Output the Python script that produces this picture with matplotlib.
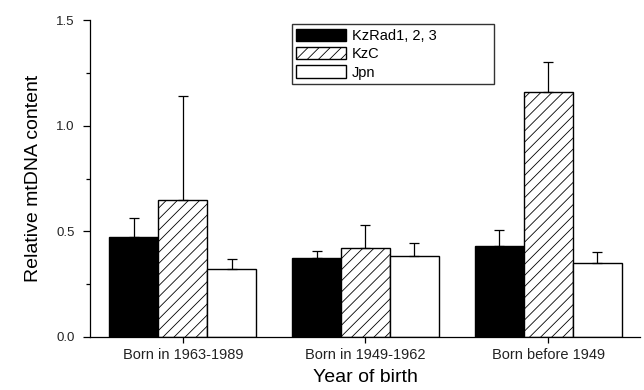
import matplotlib
matplotlib.use("Agg")
import matplotlib.pyplot as plt
import numpy as np

plt.rcParams.update({
    "font.family": ["Liberation Sans", "DejaVu Sans"],
    "hatch.linewidth": 0.6,
})

# ── Data ─────────────────────────────────────────────────────────────────
groups = ["Born in 1963-1989", "Born in 1949-1962", "Born before 1949"]
series = ["KzRad1, 2, 3", "KzC", "Jpn"]
kzrad_mean = [0.475, 0.373, 0.431]
kzrad_err = [0.087, 0.035, 0.076]
kzc_mean = [0.65, 0.42, 1.16]
kzc_err = [0.489, 0.111, 0.143]
jpn_mean = [0.322, 0.381, 0.349]
jpn_err = [0.048, 0.063, 0.051]

means = [kzrad_mean, kzc_mean, jpn_mean]
errs = [kzrad_err, kzc_err, jpn_err]
faces = ["black", "white", "white"]
hatches = [None, "///", None]

fig = plt.figure(figsize=(6.44, 3.90), dpi=100)
ax = fig.add_axes([0.1398, 0.1359, 0.854, 0.8128])

x = np.arange(len(groups))
width = 0.268
for i in range(3):
    ax.bar(x + (i - 1) * width, means[i], width,
           yerr=[np.zeros(len(groups)), errs[i]],
           color=faces[i], edgecolor="black", linewidth=1.0,
           hatch=hatches[i], label=series[i],
           error_kw=dict(ecolor="black", elinewidth=0.9, capsize=3.5,
                         capthick=0.9))

ax.set_xlim(-0.508, 2.503)
ax.set_ylim(0, 1.5)
ax.set_yticks([0.0, 0.5, 1.0, 1.5])
ax.set_yticklabels(["0.0", "0.5", "1.0", "1.5"])
ax.set_yticks([0.25, 0.75, 1.25], minor=True)
ax.set_xticks(x)
ax.set_xticklabels(groups)
ax.tick_params(axis="y", which="major", length=5, width=0.9,
               labelsize=9.5, pad=6)
ax.tick_params(axis="y", which="minor", length=3, width=0.9)
ax.tick_params(axis="x", length=4, width=0.9, labelsize=10.5, pad=4)
for lbl in ax.get_yticklabels() + ax.get_xticklabels():
    lbl.set_color("#222222")

ax.spines["top"].set_visible(False)
ax.spines["right"].set_visible(False)
ax.spines["left"].set_linewidth(0.9)
ax.spines["bottom"].set_linewidth(0.9)

ax.set_ylabel("Relative mtDNA content", fontsize=14, labelpad=10)
ax.set_xlabel("Year of birth", fontsize=14, labelpad=5)

leg = ax.legend(loc="upper left", bbox_to_anchor=(0.367, 0.798, 0.367, 0.189),
                mode="expand", fontsize=10.5, frameon=True, fancybox=False,
                edgecolor="black", handlelength=3.4, handleheight=0.9,
                handletextpad=0.4, borderpad=0.3, labelspacing=0.3,
                borderaxespad=0)
leg.get_frame().set_linewidth(1.0)

fig.savefig("out.png", dpi=100)
